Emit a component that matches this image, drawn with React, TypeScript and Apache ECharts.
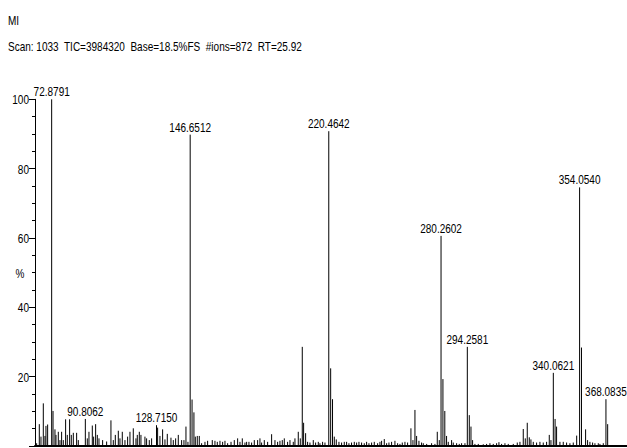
import React, { useEffect, useRef } from "react";
import * as echarts from "echarts";

// [m/z, relative intensity %] — three stretches of the spectrum
const peaksLow: [number, number][] = [
  [64.87, 0.8], [66.29, 6.3], [67.18, 2.7], [68.42, 12.3], [69.31, 2.9], [69.84, 5.8], [70.73, 6.2],
  [72.8791, 100], [73.6, 10.1], [74.63, 4.8], [75.17, 3.2], [76.41, 4.1], [77.3, 1.7], [78.18, 4.1],
  [79.07, 1.7], [80.31, 7.7], [81.2, 3.2], [82.44, 7.7], [83.33, 3.2], [84.4, 3.8], [86.17, 3.8],
  [87.06, 1.7], [90.8062, 7.8], [91.85, 2.2], [92.74, 4.1], [94.52, 5.9], [95.23, 2.7], [96.29, 6.3],
  [97.18, 3.2], [98.07, 2.2], [100.02, 1.7], [102.15, 1.3], [104.45, 7.4], [105.7, 1.7], [106.77, 3.2],
  [108.37, 4.4], [109.25, 2.2], [110.49, 4.1], [111.91, 1.7], [113.33, 2.7], [114.58, 4.1], [116.35, 5.1],
  [117.77, 2.2], [118.48, 3.2], [119.55, 4.1], [120.43, 3.2], [122.56, 2.7], [123.45, 2.2], [124.87, 1.7],
  [126.11, 2.2], [128.715, 6.0], [129.31, 5.3], [130.55, 2.9], [131.97, 4.8], [133.22, 1.9], [134.46, 3.5],
  [136.41, 2.4], [137.65, 1.7], [138.9, 2.2], [140.32, 3.2], [142.09, 1.7], [143.33, 1.7], [144.4, 5.6],
  [145.46, 1.2],
];
const peaksMid: [number, number][] = [
  [146.6512, 89.8], [147.65, 13.4], [148.65, 9.7], [149.37, 2.7], [150.43, 2.9], [151.5, 2.9], [152.74, 0.8],
  [154.52, 1.2], [155.94, 1.5], [158.42, 1.7], [159.84, 1.5], [161.09, 1.2], [162.51, 1.5], [163.93, 1.2],
  [165.17, 1.5], [166.6, 0.8], [168.4, 1.2], [170.14, 1.7], [171.92, 2.2], [173.16, 1.2], [174.4, 2.2],
  [175.82, 1.0], [176.71, 1.2], [177.95, 1.2], [179.37, 1.0], [180.79, 1.7], [182.57, 1.7], [183.81, 2.2],
  [184.7, 1.0], [186.12, 1.7], [187.9, 1.2], [190.02, 3.4], [191.8, 1.7], [193.22, 1.2], [194.46, 1.5],
  [195.7, 1.7], [196.77, 2.2], [198.54, 1.2], [199.79, 1.7], [201.56, 1.2], [202.45, 2.2], [204.22, 4.1],
  [205.29, 2.2], [206.35, 28.6], [207.07, 6.7], [208.13, 3.7], [209.19, 1.2], [210.44, 1.0], [212.21, 1.7],
  [213.46, 1.0], [214.88, 1.2], [215.76, 0.8], [217.18, 1.2], [218.43, 1.0], [220.4642, 90.8], [221.47, 22.4],
  [222.46, 13.5], [223.4, 2.7], [224.46, 1.9], [225.88, 1.2], [227.3, 1.0], [228.72, 1.2], [229.97, 1.2],
  [231.2, 0.8], [232.6, 1.0], [234.05, 1.2], [235.29, 1.0], [236.53, 1.2], [237.95, 1.0], [239.37, 0.8],
  [240.62, 1.2], [241.86, 0.8], [243.28, 1.0], [244.7, 1.2], [246.48, 0.8], [247.72, 1.2], [248.6, 1.5],
  [250.02, 2.0], [251.27, 0.8], [252.51, 1.0], [253.93, 1.2], [255.7, 1.5], [257.13, 0.8], [258.37, 0.6],
  [259.61, 1.0], [261.03, 1.2], [262.45, 1.0], [264.22, 5.1], [265.29, 1.7], [266.36, 10.4], [267.25, 2.9],
  [268.49, 1.5], [269.9, 1.0],
];
const peaksHigh: [number, number][] = [
  [270.8, 0.8], [272.6, 0.6], [275.23, 0.8], [277.0, 0.6], [278.25, 4.1], [279.32, 1.7], [280.2602, 60.6],
  [281.26, 19.3], [282.26, 10.1], [283.2, 2.9], [284.11, 1.2], [285.88, 1.7], [286.77, 1.0], [288.55, 0.8],
  [289.97, 0.6], [291.21, 0.8], [292.99, 0.8], [294.2581, 28.6], [295.3, 8.9], [296.2, 5.6], [297.07, 1.7],
  [298.31, 0.6], [300.09, 0.6], [302.75, 0.5], [304.52, 0.6], [306.3, 0.8], [308.07, 0.6], [309.85, 0.8],
  [311.09, 1.1], [312.51, 0.6], [314.29, 0.8], [316.06, 0.6], [318.73, 0.6], [320.86, 1.0], [322.28, 1.2],
  [324.05, 4.9], [325.12, 2.2], [326.18, 6.7], [327.25, 2.5], [328.13, 1.9], [329.38, 1.2], [331.15, 1.0],
  [332.93, 1.2], [334.7, 1.0], [336.48, 1.2], [337.9, 3.2], [338.79, 1.7], [340.0621, 21.1], [341.0, 7.8],
  [341.8, 5.6], [343.58, 1.2], [345.35, 1.2], [347.13, 1.0], [348.9, 0.8], [350.68, 1.0], [352.5, 3.0],
  [354.054, 74.6], [355.05, 28.4], [357.25, 4.8], [358.31, 1.7], [359.55, 1.2], [360.98, 1.0], [362.22, 0.8],
  [364.0, 0.8], [364.88, 0.6], [366.66, 0.8], [368.0835, 13.5], [369.0, 6.3],
];
// peaks that carry an m/z label
const labelledMz: number[] = [72.8791, 90.8062, 128.715, 146.6512, 220.4642, 280.2602, 294.2581, 340.0621, 354.054, 368.0835];

const yTicks: number[] = [20, 40, 60, 80, 100];
const xMin = 64;
const xMax = 379.3;

const titleLine1 = "MI";
const titleLine2 = "Scan: 1033  TIC=3984320  Base=18.5%FS  #ions=872  RT=25.92";
const yName = "%";

const FONT = "'Liberation Sans', Arial, sans-serif";
const FS = 13;
const SX = 0.77; // condense the text horizontally like the original narrow font

export default function App() {
  const ref = useRef<HTMLDivElement>(null);
  useEffect(() => {
    if (!ref.current) return;
    const chart = echarts.init(ref.current, null, { renderer: "svg" });
    const peaks = [...peaksLow, ...peaksMid, ...peaksHigh];
    const labels = labelledMz.map((m) => peaks.find((p) => p[0] === m) as [number, number]);
    const tickData = yTicks.map((v) => [xMin, v]);
    const font = `${FS}px ${FONT}`;
    chart.setOption({
      animation: false,
      backgroundColor: "#fff",
      grid: { left: 35, right: 0, top: 99.3, bottom: 2, containLabel: false },
      graphic: [
        { type: "text", x: 8, y: 20, scaleX: SX, style: { text: titleLine1, font, fill: "#000", verticalAlign: "middle" } },
        { type: "text", x: 8, y: 46, scaleX: SX, style: { text: titleLine2, font, fill: "#000", verticalAlign: "middle" } },
        { type: "text", x: 20, y: 273, scaleX: SX, style: { text: yName, font, fill: "#000", align: "center", verticalAlign: "middle" } },
      ],
      xAxis: {
        type: "value",
        min: xMin,
        max: xMax,
        axisLine: { show: true, lineStyle: { color: "#000", width: 2 } },
        axisTick: { show: false },
        axisLabel: { show: false },
        splitLine: { show: false },
      },
      yAxis: {
        type: "value",
        min: 0,
        max: 100,
        interval: 20,
        axisLine: { show: true, lineStyle: { color: "#000", width: 1 } },
        axisTick: { show: true, length: 6, lineStyle: { color: "#000" } },
        minorTick: { show: true, splitNumber: 4, length: 3, lineStyle: { color: "#000" } },
        axisLabel: { show: false },
        splitLine: { show: false },
      },
      series: [
        {
          type: "custom",
          data: peaks,
          clip: false,
          silent: true,
          renderItem: (params: any, api: any) => {
            const p0 = api.coord([api.value(0), 0]);
            const p1 = api.coord([api.value(0), api.value(1)]);
            return {
              type: "line",
              shape: { x1: p0[0], y1: p0[1], x2: p1[0], y2: p1[1] },
              style: { stroke: "#000", lineWidth: 1 },
            };
          },
        },
        {
          type: "custom",
          data: labels,
          clip: false,
          silent: true,
          renderItem: (params: any, api: any) => {
            const p = api.coord([api.value(0), api.value(1)]);
            return {
              type: "text",
              x: p[0],
              y: p[1] - 1.5,
              scaleX: SX,
              style: {
                text: (api.value(0) as number).toFixed(4),
                font,
                fill: "#000",
                align: "center",
                verticalAlign: "bottom",
              },
            };
          },
        },
        {
          type: "custom",
          data: tickData,
          clip: false,
          silent: true,
          renderItem: (params: any, api: any) => {
            const p = api.coord([api.value(0), api.value(1)]);
            return {
              type: "text",
              x: p[0] - 6,
              y: p[1],
              scaleX: SX,
              style: {
                text: String(api.value(1)),
                font,
                fill: "#000",
                align: "right",
                verticalAlign: "middle",
              },
            };
          },
        },
      ],
    });
    return () => chart.dispose();
  }, []);
  return <div ref={ref} style={{ position: "fixed", left: 0, top: 0, width: 627, height: 448 }} />;
}
